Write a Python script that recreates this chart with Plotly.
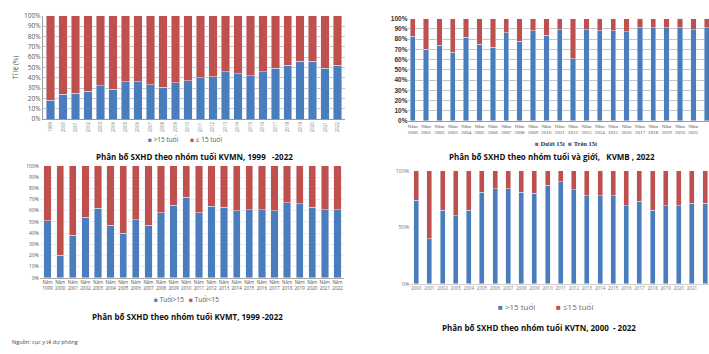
import plotly.graph_objects as go

# ---- data ----
years_mn = list(range(1999, 2023))
mn_over15 = [18, 24, 25, 27, 32, 29, 36, 36, 33, 31, 35, 37, 40, 41, 46, 44, 42, 46, 49, 52, 56, 56, 49, 52]

years_mb = list(range(2000, 2023))
mb_over15 = [83, 70, 74, 67, 82, 75, 72, 86, 78, 88, 84, 89, 61, 89, 88, 88, 87, 91, 91, 91, 91, 89, 91]

years_mt = list(range(1999, 2023))
mt_over15 = [51, 20, 38, 54, 62, 47, 40, 52, 47, 58, 65, 72, 58, 64, 63, 60, 61, 61, 60, 67, 66, 63, 61, 61]

years_tn = list(range(2000, 2023))
tn_over15 = [74, 40, 65, 60, 65, 81, 84, 84, 81, 80, 87, 90, 83, 78, 78, 78, 69, 73, 65, 69, 69, 71, 71]

BLUE = "#4a7dbd"
RED = "#c0504d"
W, H = 709, 354


def px_x(p):
    return p / W


def px_y(p):
    return 1 - p / H


fig = go.Figure()


def add_pair(over, years, xa, ya, names, width):
    idx = list(range(len(years)))
    under = [100 - v for v in over]
    fig.add_trace(go.Bar(x=idx, y=over, name=names[0], marker_color=BLUE, width=width,
                         xaxis=xa, yaxis=ya, showlegend=False))
    fig.add_trace(go.Bar(x=idx, y=under, name=names[1], marker_color=RED, width=width,
                         xaxis=xa, yaxis=ya, showlegend=False))


add_pair(mn_over15, years_mn, "x", "y", [">15 tuổi", "≤ 15 tuổi"], 0.68)
add_pair(mb_over15, years_mb, "x2", "y2", ["Trên 15t", "Dưới 15t"], 0.4)
add_pair(mt_over15, years_mt, "x3", "y3", ["Tuổi>15", "Tuổi<15"], 0.58)
add_pair(tn_over15, years_tn, "x4", "y4", [">15 tuổi", "≤15 tuổi"], 0.38)

grid = "#c4c4c4"
pct10 = list(range(0, 101, 10))
pct10_txt = ["%d%%" % v for v in pct10]

fig.update_layout(
    width=W, height=H,
    margin=dict(l=0, r=0, t=0, b=0),
    paper_bgcolor="white", plot_bgcolor="white",
    barmode="stack",
    font=dict(family="Open Sans", color="#555555"),
    # KVMN
    xaxis=dict(domain=[px_x(42), px_x(344)], range=[-0.62, 23.55],
               tickvals=list(range(len(years_mn))), ticktext=[str(y) for y in years_mn],
               tickangle=-90, tickfont=dict(size=4.5, color="#777"),
               showline=True, linecolor="#999", showgrid=False, anchor="y"),
    yaxis=dict(domain=[px_y(117), px_y(11)], range=[0, 100],
               tickvals=pct10, ticktext=pct10_txt,
               tickfont=dict(size=6.5, color="#555"), showgrid=True, gridcolor=grid,
               showline=True, linecolor="#999", anchor="x",
               title=dict(text="Tỉ lệ (%)", font=dict(size=6.5, color="#555"), standoff=4)),
    # KVMB
    xaxis2=dict(domain=[px_x(408), 1.0], range=[-0.32, 22.17],
                tickvals=list(range(len(years_mb))),
                ticktext=["Năm<br>%d" % y for y in years_mb],
                tickangle=0, tickfont=dict(size=5, color="#555", family="Liberation Serif"),
                showline=True, linecolor="#999", showgrid=False, anchor="y2"),
    yaxis2=dict(domain=[px_y(119), px_y(14)], range=[0, 100],
                tickvals=pct10, ticktext=["<b>%s</b>" % t for t in pct10_txt],
                tickfont=dict(size=6.5, color="#333", family="Liberation Sans"),
                showgrid=True, gridcolor=grid, showline=False, anchor="x2"),
    # KVMT
    xaxis3=dict(domain=[px_x(39), px_x(343)], range=[-0.61, 23.48],
                tickvals=list(range(len(years_mt))),
                ticktext=["Năm<br>%d" % y for y in years_mt],
                tickangle=0, tickfont=dict(size=4.5, color="#555"),
                showline=True, linecolor="#aaa", showgrid=False, anchor="y3"),
    yaxis3=dict(domain=[px_y(280), px_y(165)], range=[0, 100],
                tickvals=pct10, ticktext=pct10_txt,
                tickfont=dict(size=5, color="#555"), showgrid=True, gridcolor="#ececec",
                showline=False, anchor="x3"),
    # KVTN
    xaxis4=dict(domain=[px_x(410), 1.0], range=[-0.45, 22.3],
                tickvals=list(range(len(years_tn))), ticktext=[str(y) for y in years_tn],
                tickangle=0, tickfont=dict(size=4.5, color="#777"),
                showline=True, linecolor="#d0d0d0", showgrid=False, anchor="y4"),
    yaxis4=dict(domain=[px_y(286), px_y(170)], range=[0, 100], tickvals=[0, 50, 100],
                ticktext=["0%", "50%", "100%"],
                tickfont=dict(size=5.5, color="#777"), showgrid=False,
                showline=False, anchor="x4"),
)


def square(color):
    return "<span style='color:%s'>■</span>" % color


# legends drawn as text rows: (items, left x, centre y, font, gap)
legend_rows = [
    ([(BLUE, ">15 tuổi"), (RED, "≤ 15 tuổi")], 145, 138, dict(size=6.5, color="#555"), "&nbsp;" * 7),
    ([(RED, "<b>Dưới 15t</b>"), (BLUE, "<b>Trên 15t</b>")], 533, 142,
     dict(size=6.5, color="#333", family="Liberation Serif"), "&nbsp;" * 2),
    ([(BLUE, "Tuổi>15"), (RED, "Tuổi<15")], 151, 302, dict(size=6.5, color="#555"), "&nbsp;" * 3),
    ([(BLUE, ">15 tuổi"), (RED, "≤15 tuổi")], 496, 309, dict(size=8, color="#666"), "&nbsp;" * 10),
]
for items, lx, ly, font, gap in legend_rows:
    text = gap.join("%s %s" % (square(c), t) for c, t in items)
    fig.add_annotation(text=text, x=px_x(lx), y=px_y(ly), xref="paper", yref="paper",
                       showarrow=False, xanchor="left", yanchor="middle", font=font)

title_font = dict(family="Open Sans", size=8, color="#111")
titles = [
    ("<b>Phân bố SXHD theo nhóm tuổi KVMN, 1999   -2022</b>", 194, 155),
    ("<b>Phân bố SXHD theo nhóm tuổi và giới,   KVMB , 2022</b>", 552, 155),
    ("<b>Phân bố SXHD theo nhóm tuổi KVMT, 1999 -2022</b>", 187, 320),
    ("<b>Phân bố SXHD theo nhóm tuổi KVTN, 2000  - 2022</b>", 539, 331),
]
for text, cx, cy in titles:
    fig.add_annotation(text=text, x=px_x(cx), y=px_y(cy), xref="paper", yref="paper",
                       showarrow=False, xanchor="center", yanchor="middle", font=title_font)

fig.add_annotation(text="Nguồn: cục y tế dự phòng", x=px_x(9), y=px_y(346), xref="paper", yref="paper",
                   showarrow=False, xanchor="left", yanchor="middle",
                   font=dict(family="Open Sans", size=5.5, color="#444"))

fig.write_html("out.html")
